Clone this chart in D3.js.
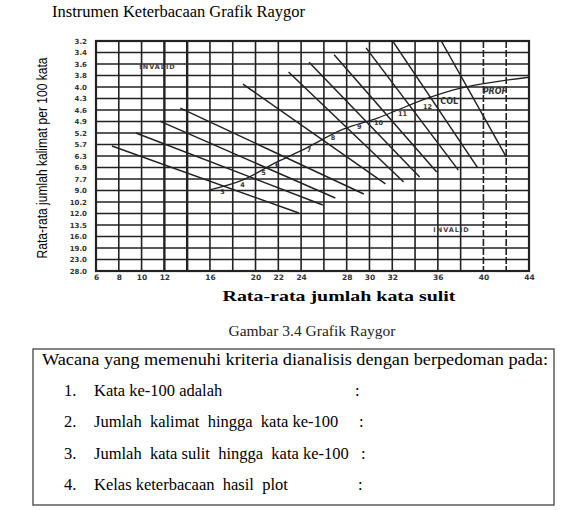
<!DOCTYPE html>
<html>
<head>
<meta charset="utf-8">
<script src="https://cdn.jsdelivr.net/npm/d3@7"></script>
<style>
  body { margin: 0; background: #fff; }
  svg { display: block; }
</style>
</head>
<body>
<div id="chart"></div>
<script>
// --- data ---
// y axis: average number of sentences per 100 words
const sentenceLabels = ["3.2","3.4","3.6","3.8","4.0","4.3","4.6","4.9","5.2","5.7","6.3","6.9","7.7","9.0","10.2","12.0","13.5","16.0","19.0","23.0","28.0"];
const sentenceValues = sentenceLabels.map(Number);
// x axis: average number of long words
const wordTicks = [6, 8, 10, 12, 16, 20, 22, 24, 28, 30, 32, 36, 40, 44];
const wordGrid = [6,8,10,12,14,16,18,20,22,24,26,28,30,32,34,36,38,40,42,44];

// grade boundary lines (start / end in data units)
const lineStartX = [7.4, 9.5, 11.6, 13.4, 18.9, 22.9, 24.7, 26.9, 29.7, 32.1, 36.3];
const lineStartY = [5.78, 5.2, 4.89, 4.55, 3.95, 3.74, 3.57, 3.44, 3.32, 3.22, 3.2];
const lineEndX   = [23.8, 25.9, 27.0, 29.5, 31.4, 33.0, 34.4, 35.9, 37.8, 39.5, 42.0];
const lineEndY   = [11.93, 10.67, 9.78, 9.36, 8.26, 8.04, 7.56, 7.21, 7.08, 6.93, 6.35];

// the rising curve the grade levels sit on
const curveX = [15.9, 18.85, 21.9, 24.1, 27.7, 30.7, 35.1, 38.0, 41.0, 44.0];
const curveY = [8.95, 7.82, 6.61, 5.99, 5.10, 4.81, 4.29, 4.03, 3.91, 3.83];

// grade level labels
const gradeNames = ["3","4","5","6","7","8","9","10","11","12","COL","PROF"];
const gradeX = [17.1, 18.85, 20.7, 21.9, 24.7, 26.8, 29.1, 30.8, 32.9, 35.1, 37.0, 41.0];
const gradeY = [9.16, 8.38, 7.28, 6.77, 5.99, 5.42, 5.04, 4.94, 4.71, 4.52, 4.37, 4.11];

const invalidX = [11.4, 37.2];
const invalidY = [3.65, 14.6];

const checkItems = [
  "Kata ke-100 adalah",
  "Jumlah  kalimat  hingga  kata ke-100",
  "Jumlah  kata sulit  hingga  kata ke-100",
  "Kelas keterbacaan  hasil  plot"
];

/** CONSTANTS */
const width = 566, height = 510;
const plot = {left: 96, right: 529, top: 41, bottom: 271};
const ink = "#222";

/** SCALES */
const x = d3.scaleLinear().domain([6, 44]).range([plot.left, plot.right]);
// the sentence axis is not linear: equal spacing between printed values
const rowStep = (plot.bottom - plot.top) / (sentenceValues.length - 1);
const y = d3.scaleLinear()
  .domain(sentenceValues)
  .range(sentenceValues.map((d, i) => plot.top + i * rowStep));

const svg = d3.select("#chart").append("svg")
  .attr("width", width)
  .attr("height", height)
  .style("background", "#fff");

// title
svg.append("text")
  .attr("x", 52).attr("y", 17)
  .attr("font-family", "Liberation Serif")
  .attr("font-size", 16)
  .attr("textLength", 253)
  .attr("lengthAdjust", "spacingAndGlyphs")
  .text("Instrumen  Keterbacaan Grafik  Raygor");

/** GRID */
svg.append("g").selectAll("line")
  .data(wordGrid)
  .join("line")
  .attr("x1", d => x(d)).attr("x2", d => x(d))
  .attr("y1", plot.top).attr("y2", plot.bottom)
  .attr("stroke", ink)
  .attr("stroke-width", d => (d === 12 || d === 14) ? 2.4 : 1.6)
  .attr("stroke-dasharray", d => (d === 40 || d === 42) ? "7,2" : null);

svg.append("g").selectAll("line")
  .data(sentenceValues)
  .join("line")
  .attr("x1", plot.left).attr("x2", plot.right)
  .attr("y1", d => y(d)).attr("y2", d => y(d))
  .attr("stroke", ink)
  .attr("stroke-width", 1.6);

// frame
svg.append("rect")
  .attr("x", plot.left).attr("y", plot.top)
  .attr("width", plot.right - plot.left)
  .attr("height", plot.bottom - plot.top)
  .attr("fill", "none")
  .attr("stroke", ink)
  .attr("stroke-width", 2.2);

/** AXES */
const yAxis = svg.append("g")
  .attr("transform", `translate(${plot.left},0)`)
  .call(d3.axisLeft(y).tickValues(sentenceValues)
    .tickFormat((d, i) => sentenceLabels[i])
    .tickSize(0).tickPadding(9));
yAxis.select(".domain").remove();
yAxis.selectAll("text")
  .attr("font-family", "DejaVu Sans")
  .attr("font-weight", "bold")
  .attr("font-size", 7)
  .attr("fill", "#333");

const xAxis = svg.append("g")
  .attr("transform", `translate(0,${plot.bottom})`)
  .call(d3.axisBottom(x).tickValues(wordTicks).tickSize(0).tickPadding(4));
xAxis.select(".domain").remove();
xAxis.selectAll("text")
  .attr("font-family", "DejaVu Sans")
  .attr("font-weight", "bold")
  .attr("font-size", 7.5)
  .attr("fill", "#333");

// axis titles
svg.append("text")
  .attr("transform", `translate(47,${(plot.top + plot.bottom) / 2 + 2}) rotate(-90)`)
  .attr("text-anchor", "middle")
  .attr("font-family", "Liberation Sans Narrow, Liberation Sans")
  .attr("font-size", 15.5)
  .attr("textLength", 201)
  .attr("lengthAdjust", "spacingAndGlyphs")
  .text("Rata-rata jumlah kalimat per 100 kata");

svg.append("text")
  .attr("x", 339).attr("y", 301)
  .attr("text-anchor", "middle")
  .attr("font-family", "Liberation Serif")
  .attr("font-weight", "bold")
  .attr("font-size", 15)
  .attr("textLength", 233)
  .attr("lengthAdjust", "spacingAndGlyphs")
  .text("Rata-rata jumlah kata sulit");

/** GRADE LINES */
const boundaries = lineStartX.map((d, i) => ({
  x1: d, y1: lineStartY[i], x2: lineEndX[i], y2: lineEndY[i]
}));

svg.append("g").selectAll("line")
  .data(boundaries)
  .join("line")
  .attr("x1", d => x(d.x1)).attr("y1", d => y(d.y1))
  .attr("x2", d => x(d.x2)).attr("y2", d => y(d.y2))
  .attr("stroke", ink)
  .attr("stroke-width", 1.5);

const curvePts = curveX.map((d, i) => [d, curveY[i]]);
svg.append("path")
  .datum(curvePts)
  .attr("d", d3.line().x(d => x(d[0])).y(d => y(d[1])).curve(d3.curveMonotoneX))
  .attr("fill", "none")
  .attr("stroke", ink)
  .attr("stroke-width", 1.3);

svg.append("g").selectAll("text")
  .data(gradeNames)
  .join("text")
  .attr("x", (d, i) => x(gradeX[i]))
  .attr("y", (d, i) => y(gradeY[i]))
  .attr("dy", "0.35em")
  .attr("text-anchor", "middle")
  .attr("font-family", "DejaVu Sans")
  .attr("font-weight", "bold")
  .attr("font-style", d => d === "PROF" ? "italic" : null)
  .attr("font-size", d => d.length > 2 ? 8 : 6.5)
  .attr("fill", "#333")
  .text(d => d);

svg.append("g").selectAll("text")
  .data(invalidX)
  .join("text")
  .attr("x", d => x(d))
  .attr("y", (d, i) => y(invalidY[i]))
  .attr("dy", "0.35em")
  .attr("text-anchor", "middle")
  .attr("font-family", "DejaVu Sans")
  .attr("font-weight", "bold")
  .attr("font-size", 6.5)
  .attr("letter-spacing", 1)
  .attr("fill", "#444")
  .text("INVALID");

/** CAPTION + BOX */
svg.append("text")
  .attr("x", 312).attr("y", 336)
  .attr("text-anchor", "middle")
  .attr("font-family", "Liberation Serif")
  .attr("font-size", 15.5)
  .attr("fill", "#222")
  .text("Gambar 3.4 Grafik Raygor");

svg.append("rect")
  .attr("x", 33).attr("y", 349)
  .attr("width", 521).attr("height", 156)
  .attr("fill", "none")
  .attr("stroke", "#444")
  .attr("stroke-width", 1.3);

svg.append("text")
  .attr("x", 42).attr("y", 365)
  .attr("font-family", "Liberation Serif")
  .attr("font-size", 16)
  .attr("textLength", 506)
  .attr("lengthAdjust", "spacingAndGlyphs")
  .text("Wacana  yang  memenuhi  kriteria  dianalisis  dengan  berpedoman  pada:");

const rows = svg.append("g").selectAll("g")
  .data(checkItems)
  .join("g")
  .attr("transform", (d, i) => `translate(0,${396 + i * 31.3})`)
  .attr("font-family", "Liberation Serif")
  .attr("font-size", 16.5);

const colonX = [355, 359, 361, 358];
rows.append("text").attr("x", 64).text((d, i) => (i + 1) + ".");
rows.append("text").attr("x", 94).attr("xml:space", "preserve").text(d => d);
rows.append("text").attr("x", (d, i) => colonX[i]).text(":");
</script>
</body>
</html>
